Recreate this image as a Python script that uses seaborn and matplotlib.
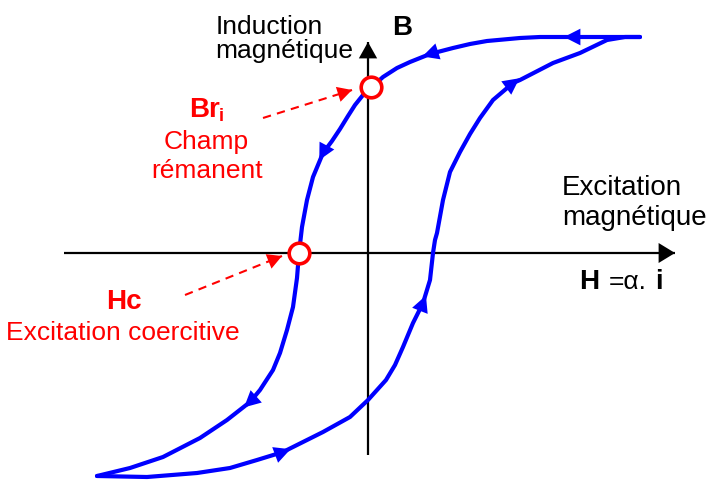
import numpy as np
import pandas as pd
import matplotlib
matplotlib.use("Agg")
import matplotlib.pyplot as plt
import seaborn as sns

# hysteresis loop (pixel coordinates, y downward)
desc_x = [640, 607, 572, 540, 520, 487, 470, 453, 430, 410, 397, 383, 372, 363, 355, 348,
          340, 332, 323, 313, 307, 302, 299, 297, 293, 287, 280, 273, 260, 250, 227, 200,
          163, 130, 97]
desc_y = [37, 37, 37, 37, 38, 41, 44, 48, 54, 62, 68, 77, 87, 95, 105, 116,
          129, 141, 153, 177, 200, 227, 253, 278, 307, 330, 353, 370, 390, 402, 420, 438,
          457, 468, 476]
desc_arrows = [2, 8, 18, 29]

asc_x = [97, 147, 197, 230, 257, 283, 297, 323, 350, 368, 377, 386, 395, 403, 413, 423,
         430, 433, 435, 437, 443, 450, 460, 470, 480, 493, 513, 520, 553, 580, 607, 625, 640]
asc_y = [476, 477, 473, 468, 460, 452, 445, 432, 417, 400, 390, 380, 365, 347, 323, 303,
         280, 253, 240, 233, 200, 172, 152, 134, 118, 100, 83, 80, 63, 53, 40, 37, 37]
asc_arrows = [5, 15, 26]

# remarkable points: remanent field Br and coercive excitation Hc
pts_x = [371, 299]
pts_y = [87, 253]

# axes (origin, ends)
axis_x0, axis_y0 = 368, 253
xaxis_ends = [64, 675]
yaxis_ends = [455, 42]

# dashed pointers: start -> end
br_ptr = [(263, 118), (352, 90)]
hc_ptr = [(185, 295), (282, 256)]

BLUE = "#0000FF"
RED = "#FF0000"

sns.set_theme(style="white")
plt.rcParams["font.family"] = ["Liberation Sans", "DejaVu Sans"]

fig = plt.figure(figsize=(7.17, 4.80), dpi=100)
ax = fig.add_axes([0, 0, 1, 1])
ax.set_xlim(0, 717)
ax.set_ylim(480, 0)
ax.axis("off")


def head(p0, p1, color, length=15, width=0.35):
    ax.annotate("", xy=p1, xytext=p0,
                arrowprops=dict(arrowstyle=f"-|>,head_length={length / 27:.2f},head_width={width}",
                                mutation_scale=20, color=color, lw=0,
                                shrinkA=0, shrinkB=0))


# coordinate axes
ax.plot(xaxis_ends, [axis_y0, axis_y0], color="black", lw=1.6, solid_capstyle="butt")
ax.plot([axis_x0, axis_x0], yaxis_ends, color="black", lw=1.6, solid_capstyle="butt")
head((xaxis_ends[1] - 16, axis_y0), (xaxis_ends[1], axis_y0), "black", length=16, width=0.36)
head((axis_x0, yaxis_ends[1] + 16), (axis_x0, yaxis_ends[1]), "black", length=16, width=0.33)

# loop
df_desc = pd.DataFrame({"H": desc_x, "B": desc_y})
df_asc = pd.DataFrame({"H": asc_x, "B": asc_y})
for d in (df_desc, df_asc):
    sns.lineplot(data=d, x="H", y="B", sort=False, estimator=None,
                 color=BLUE, lw=3, ax=ax, solid_joinstyle="round", solid_capstyle="round")

for d, idx in ((df_desc, desc_arrows), (df_asc, asc_arrows)):
    for i in idx:
        p = np.array([d.H[i], d.B[i]], float)
        v = np.array([d.H[i + 1] - d.H[i - 1], d.B[i + 1] - d.B[i - 1]], float)
        v /= np.hypot(*v)
        head(tuple(p - v * 8), tuple(p + v * 8), BLUE, length=16, width=0.3)

# red dashed pointers
for (a, b) in (br_ptr, hc_ptr):
    ax.plot([a[0], b[0]], [a[1], b[1]], color=RED, lw=1.5, ls=(0, (4, 3)))
    v = np.array(b, float) - np.array(a, float)
    v /= np.hypot(*v)
    head(tuple(np.array(b) - v * 14), b, RED, length=14, width=0.28)

sns.scatterplot(x=pts_x, y=pts_y, s=220, color="white", edgecolor=RED,
                linewidth=2.6, zorder=5, ax=ax)

# labels
fs = 19
ax.text(216, 34, "Induction", fontsize=fs, color="black", va="baseline")
ax.text(215, 58, "magnétique", fontsize=fs, color="black", va="baseline")
ax.text(392, 35, "B", fontsize=20, fontweight="bold", color="black", va="baseline")
ax.text(562, 195, "Excitation", fontsize=20, color="black", va="baseline")
ax.text(562, 225, "magnétique", fontsize=20, color="black", va="baseline")
ax.text(579, 289, "H", fontsize=20, fontweight="bold", color="black", va="baseline")
ax.text(609, 289, "=α.", fontsize=fs, color="black", va="baseline")
ax.text(655, 289, "i", fontsize=20, fontweight="bold", color="black", va="baseline")

ax.text(220, 117, "Br", fontsize=20, fontweight="bold", color=RED, va="baseline", ha="right")
ax.text(219, 121, "i", fontsize=13, fontweight="bold", color=RED, va="baseline", ha="left")
ax.text(206, 149, "Champ", fontsize=fs, color=RED, va="baseline", ha="center")
ax.text(207, 178, "rémanent", fontsize=fs, color=RED, va="baseline", ha="center")
ax.text(124, 309, "Hc", fontsize=20, fontweight="bold", color=RED, va="baseline", ha="center")
ax.text(123, 340, "Excitation coercitive", fontsize=fs, color=RED, va="baseline", ha="center")

fig.savefig("out.png", dpi=100)
